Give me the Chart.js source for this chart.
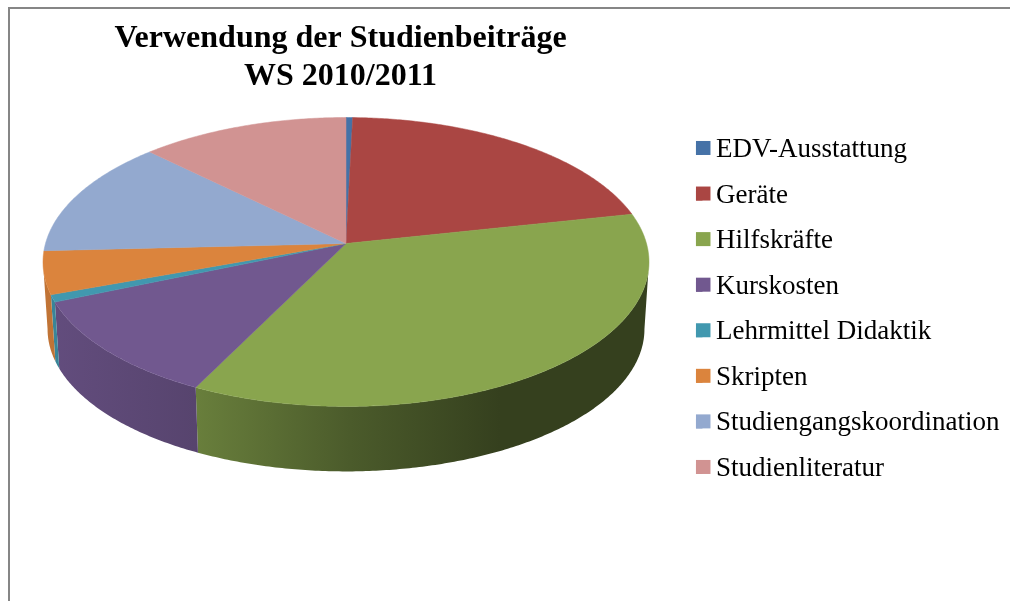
<!DOCTYPE html>
<html lang="de">
<head>
<meta charset="utf-8">
<title>Verwendung der Studienbeiträge</title>
<script src="https://cdn.jsdelivr.net/npm/chart.js@4"></script>
<style>
    html, body { margin: 0; padding: 0; background: #fff; overflow: hidden; }
    #wrap { position: relative; width: 1010px; height: 601px; }
    #frame { position: absolute; left: 8px; top: 7px; right: 0; bottom: 0; border-left: 2px solid #868686; border-top: 2px solid #868686; }
    canvas { position: absolute; left: 0; top: 0; filter: blur(0.4px); }
</style>
</head>
<body>
<div id="wrap">
    <div id="frame"></div>
    <canvas id="myChart" width="1010" height="601"></canvas>
</div>
<script>
const titleLines = ['Verwendung der Studienbeiträge', 'WS 2010/2011'];
const categories = ['EDV-Ausstattung', 'Geräte', 'Hilfskräfte', 'Kurskosten', 'Lehrmittel Didaktik', 'Skripten', 'Studiengangskoordination', 'Studienliteratur'];
const shares = [0.4, 21.2, 35.7, 11.3, 0.8, 4.8, 13.2, 12.6];
const colors = ['#4572a7', '#aa4643', '#89a54e', '#71588f', '#4198af', '#db843d', '#93a9cf', '#d19392'];

// wall shading along x, as [x, brightness]
const wallShade = [[45, 0.88], [195, 0.77], [350, 0.55], [500, 0.39], [649, 0.39]];

// the pie is tilted with perspective, so the hub is not the middle of the ellipse
const hubX = 346, hubY = 243.5;
const tilt = 0.128, radX = 300.5, radY = 142.1;
const wallDepth = 67.4, wallScale = 0.985;

function project(a, lower) {
    const u = Math.cos(a), v = Math.sin(a), w = 1 - tilt * v;
    const s = lower ? wallScale : 1;
    return {
        x: hubX + radX * s * u / w,
        y: hubY + (lower ? wallDepth : 0) + radY * s * v / w
    };
}

function shade(hex, f) {
    const n = parseInt(hex.slice(1), 16);
    const r = Math.round((n >> 16 & 255) * f), g = Math.round((n >> 8 & 255) * f), b = Math.round((n & 255) * f);
    return `rgb(${r},${g},${b})`;
}

function arcPoints(start, end, lower) {
    const pts = [];
    const steps = Math.max(2, Math.ceil((end - start) / 0.01));
    for (let i = 0; i <= steps; i++) {
        pts.push(project(start + (end - start) * i / steps, lower));
    }
    return pts;
}

const pie3d = {
    id: 'pie3d',
    afterLayout(chart) {
        // same places as in the original sheet
        const legend = chart.legend;
        legend.left = 677.4;
        legend.top = 117.9;
        const title = chart.titleBlock;
        title.left = 40;
        title.right = 641;
        title.top = 19.5;
    },
    beforeDatasetsDraw(chart) {
        const ctx = chart.ctx;
        const arcs = chart.getDatasetMeta(0).data;
        // the rim turns away from the viewer at these angles
        const loA = Math.asin(tilt), hiA = Math.PI - loA;

        // side walls first, only the front part is visible
        arcs.forEach((arc, i) => {
            const start = Math.max(arc.startAngle, loA), end = Math.min(arc.endAngle, hiA);
            if (end <= start) return;
            const grad = ctx.createLinearGradient(45, 0, 649, 0);
            wallShade.forEach(s => grad.addColorStop((s[0] - 45) / 604, shade(colors[i], s[1])));
            const top = arcPoints(start, end, false);
            const low = arcPoints(start, end, true).reverse();
            ctx.beginPath();
            top.concat(low).forEach((p, k) => k ? ctx.lineTo(p.x, p.y) : ctx.moveTo(p.x, p.y));
            ctx.closePath();
            ctx.fillStyle = grad;
            ctx.fill();
        });

        // top face
        arcs.forEach((arc, i) => {
            ctx.beginPath();
            ctx.moveTo(hubX, hubY);
            arcPoints(arc.startAngle, arc.endAngle, false).forEach(p => ctx.lineTo(p.x, p.y));
            ctx.closePath();
            ctx.fillStyle = colors[i];
            ctx.strokeStyle = colors[i];
            ctx.lineWidth = 0.5;
            ctx.fill();
            ctx.stroke();
        });
        return false;
    },
    afterDraw(chart) {
        // legend keys sit closer to the text than Chart.js allows, so widen them here
        const ctx = chart.ctx;
        chart.legend.legendHitBoxes.forEach((hit, i) => {
            ctx.fillStyle = colors[i];
            ctx.fillRect(hit.left, hit.top + hit.height / 2 - 9, 14.5, 14);
        });
    }
};

new Chart(document.getElementById('myChart'), {
    type: 'pie',
    data: {
        labels: categories,
        datasets: [{ data: shares, backgroundColor: colors, borderWidth: 0 }]
    },
    options: {
        responsive: false,
        animation: false,
        plugins: {
            title: {
                display: true,
                text: titleLines,
                color: '#000',
                font: { family: '"Liberation Serif"', size: 32, weight: 'bold', lineHeight: 1.19 },
                padding: 0
            },
            legend: {
                position: 'right',
                align: 'start',
                labels: {
                    boxWidth: 6.5,
                    boxHeight: 10,
                    color: '#000',
                    font: { family: '"Liberation Serif"', size: 27, lineHeight: 1.2 },
                    padding: 18.57
                }
            },
            tooltip: { enabled: false }
        }
    },
    plugins: [pie3d]
});
</script>
</body>
</html>
